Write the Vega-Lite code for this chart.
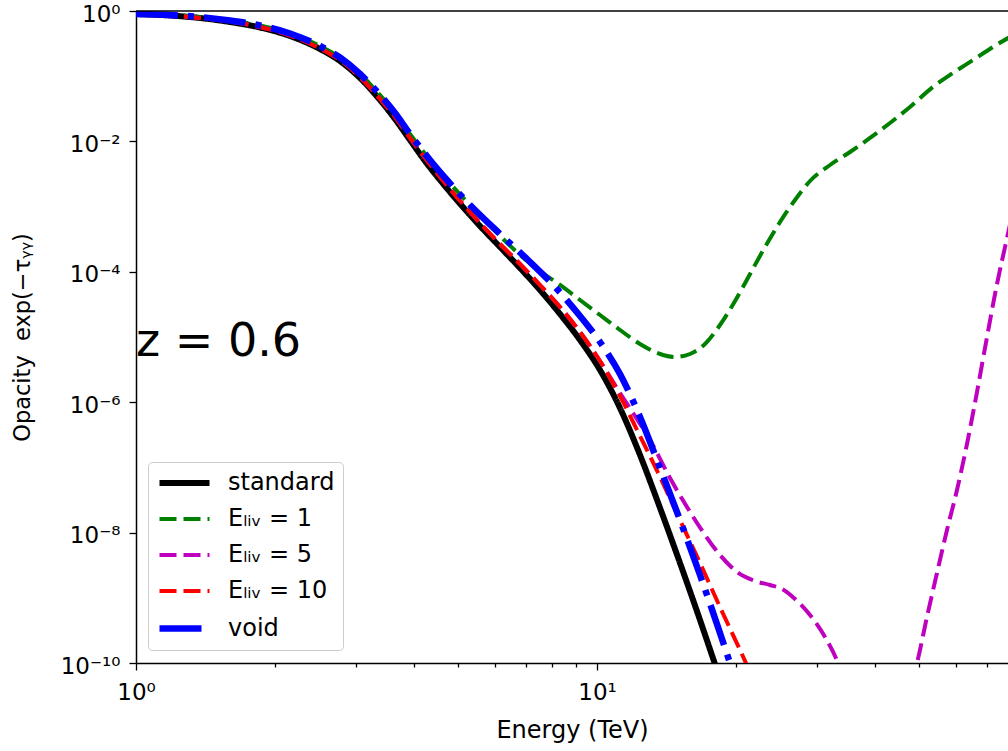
{
  "$schema": "https://vega.github.io/schema/vega-lite/v6.json",
  "width": 872,
  "height": 652,
  "autosize": {"type": "none"},
  "padding": {"left": 136, "top": 11, "right": 0, "bottom": 88},
  "background": "white",
  "config": {"font": "DejaVu Sans", "view": {"stroke": null}},
  "datasets": {
    "curves": [
      {"series": "standard", "E": 1.000, "O": 0.8995},
      {"series": "standard", "E": 1.1851, "O": 0.8532},
      {"series": "standard", "E": 1.3766, "O": 0.7810},
      {"series": "standard", "E": 1.5995, "O": 0.6781},
      {"series": "standard", "E": 1.8580, "O": 0.5585},
      {"series": "standard", "E": 2.1584, "O": 0.4136},
      {"series": "standard", "E": 2.5068, "O": 0.2613},
      {"series": "standard", "E": 2.7704, "O": 0.1710},
      {"series": "standard", "E": 3.0617, "O": 0.09384},
      {"series": "standard", "E": 3.3834, "O": 0.04315},
      {"series": "standard", "E": 3.6464, "O": 0.02206},
      {"series": "standard", "E": 3.9293, "O": 0.01051},
      {"series": "standard", "E": 4.2353, "O": 0.005005},
      {"series": "standard", "E": 4.6799, "O": 0.00207},
      {"series": "standard", "E": 5.0950, "O": 0.001021},
      {"series": "standard", "E": 5.5748, "O": 5.04e-4},
      {"series": "standard", "E": 6.1614, "O": 2.401e-4},
      {"series": "standard", "E": 6.8072, "O": 1.144e-4},
      {"series": "standard", "E": 7.5214, "O": 5.258e-5},
      {"series": "standard", "E": 8.3131, "O": 2.253e-5},
      {"series": "standard", "E": 9.1861, "O": 8.995e-6},
      {"series": "standard", "E": 10.151, "O": 3.117e-6},
      {"series": "standard", "E": 11.217, "O": 8.148e-7},
      {"series": "standard", "E": 12.396, "O": 1.55e-7},
      {"series": "standard", "E": 13.701, "O": 2.385e-8},
      {"series": "standard", "E": 15.137, "O": 3.418e-9},
      {"series": "standard", "E": 16.728, "O": 4.565e-10},
      {"series": "standard", "E": 18.117, "O": 8.684e-11},
      {"series": "standard", "E": 19.432, "O": 2.04e-11},

      {"series": "E_LIV = 1", "E": 1.000, "O": 0.8995},
      {"series": "E_LIV = 1", "E": 1.1851, "O": 0.8683},
      {"series": "E_LIV = 1", "E": 1.3766, "O": 0.8091},
      {"series": "E_LIV = 1", "E": 1.5995, "O": 0.7150},
      {"series": "E_LIV = 1", "E": 1.8580, "O": 0.5992},
      {"series": "E_LIV = 1", "E": 2.1584, "O": 0.4518},
      {"series": "E_LIV = 1", "E": 2.5068, "O": 0.2904},
      {"series": "E_LIV = 1", "E": 2.7704, "O": 0.1935},
      {"series": "E_LIV = 1", "E": 3.0617, "O": 0.1081},
      {"series": "E_LIV = 1", "E": 3.3834, "O": 0.05147},
      {"series": "E_LIV = 1", "E": 3.6464, "O": 0.02726},
      {"series": "E_LIV = 1", "E": 3.9293, "O": 0.01299},
      {"series": "E_LIV = 1", "E": 4.3422, "O": 0.005185},
      {"series": "E_LIV = 1", "E": 4.7269, "O": 0.002559},
      {"series": "E_LIV = 1", "E": 5.3030, "O": 0.001058},
      {"series": "E_LIV = 1", "E": 6.1614, "O": 3.54e-4},
      {"series": "E_LIV = 1", "E": 6.8072, "O": 1.81e-4},
      {"series": "E_LIV = 1", "E": 7.5214, "O": 1.029e-4},
      {"series": "E_LIV = 1", "E": 8.3131, "O": 6.275e-5},
      {"series": "E_LIV = 1", "E": 9.1861, "O": 3.694e-5},
      {"series": "E_LIV = 1", "E": 10.151, "O": 2.175e-5},
      {"series": "E_LIV = 1", "E": 11.217, "O": 1.2805e-5},
      {"series": "E_LIV = 1", "E": 12.396, "O": 7.809e-6},
      {"series": "E_LIV = 1", "E": 13.701, "O": 5.486e-6},
      {"series": "E_LIV = 1", "E": 14.764, "O": 4.934e-6},
      {"series": "E_LIV = 1", "E": 15.912, "O": 5.486e-6},
      {"series": "E_LIV = 1", "E": 17.151, "O": 7.809e-6},
      {"series": "E_LIV = 1", "E": 18.483, "O": 1.528e-5},
      {"series": "E_LIV = 1", "E": 19.928, "O": 3.566e-5},
      {"series": "E_LIV = 1", "E": 21.478, "O": 9.252e-5},
      {"series": "E_LIV = 1", "E": 23.145, "O": 2.401e-4},
      {"series": "E_LIV = 1", "E": 24.947, "O": 5.805e-4},
      {"series": "E_LIV = 1", "E": 26.886, "O": 0.0012625},
      {"series": "E_LIV = 1", "E": 28.978, "O": 0.0024702},
      {"series": "E_LIV = 1", "E": 32.020, "O": 0.0043454},
      {"series": "E_LIV = 1", "E": 35.386, "O": 0.0068783},
      {"series": "E_LIV = 1", "E": 39.102, "O": 0.011276},
      {"series": "E_LIV = 1", "E": 43.205, "O": 0.01915},
      {"series": "E_LIV = 1", "E": 47.741, "O": 0.033696},
      {"series": "E_LIV = 1", "E": 53.552, "O": 0.0683},
      {"series": "E_LIV = 1", "E": 59.183, "O": 0.11197},
      {"series": "E_LIV = 1", "E": 65.403, "O": 0.1772},
      {"series": "E_LIV = 1", "E": 72.278, "O": 0.2805},
      {"series": "E_LIV = 1", "E": 78.692, "O": 0.3993},

      {"series": "E_LIV = 5", "E": 1.000, "O": 0.8995},
      {"series": "E_LIV = 5", "E": 1.1851, "O": 0.8532},
      {"series": "E_LIV = 5", "E": 1.3766, "O": 0.7810},
      {"series": "E_LIV = 5", "E": 1.5995, "O": 0.6901},
      {"series": "E_LIV = 5", "E": 1.8580, "O": 0.5683},
      {"series": "E_LIV = 5", "E": 2.1584, "O": 0.4210},
      {"series": "E_LIV = 5", "E": 2.5068, "O": 0.2660},
      {"series": "E_LIV = 5", "E": 2.7704, "O": 0.1772},
      {"series": "E_LIV = 5", "E": 3.0617, "O": 0.09721},
      {"series": "E_LIV = 5", "E": 3.3834, "O": 0.0447},
      {"series": "E_LIV = 5", "E": 3.6464, "O": 0.02367},
      {"series": "E_LIV = 5", "E": 3.9293, "O": 0.011276},
      {"series": "E_LIV = 5", "E": 4.2353, "O": 0.005565},
      {"series": "E_LIV = 5", "E": 4.6799, "O": 0.002301},
      {"series": "E_LIV = 5", "E": 5.0950, "O": 0.0011356},
      {"series": "E_LIV = 5", "E": 5.5748, "O": 5.604e-4},
      {"series": "E_LIV = 5", "E": 6.1614, "O": 2.669e-4},
      {"series": "E_LIV = 5", "E": 6.8072, "O": 1.317e-4},
      {"series": "E_LIV = 5", "E": 7.5214, "O": 6.275e-5},
      {"series": "E_LIV = 5", "E": 8.3131, "O": 2.885e-5},
      {"series": "E_LIV = 5", "E": 9.1861, "O": 1.193e-5},
      {"series": "E_LIV = 5", "E": 10.151, "O": 4.282e-6},
      {"series": "E_LIV = 5", "E": 11.217, "O": 1.384e-6},
      {"series": "E_LIV = 5", "E": 12.090, "O": 6.144e-7},
      {"series": "E_LIV = 5", "E": 13.030, "O": 2.632e-7},
      {"series": "E_LIV = 5", "E": 14.401, "O": 6.878e-8},
      {"series": "E_LIV = 5", "E": 15.675, "O": 2.47e-8},
      {"series": "E_LIV = 5", "E": 16.980, "O": 1.021e-8},
      {"series": "E_LIV = 5", "E": 18.483, "O": 4.533e-9},
      {"series": "E_LIV = 5", "E": 20.127, "O": 2.488e-9},
      {"series": "E_LIV = 5", "E": 22.018, "O": 1.81e-9},
      {"series": "E_LIV = 5", "E": 23.730, "O": 1.572e-9},
      {"series": "E_LIV = 5", "E": 25.197, "O": 1.364e-9},
      {"series": "E_LIV = 5", "E": 26.886, "O": 9.585e-10},
      {"series": "E_LIV = 5", "E": 28.978, "O": 5.448e-10},
      {"series": "E_LIV = 5", "E": 31.231, "O": 2.505e-10},
      {"series": "E_LIV = 5", "E": 33.326, "O": 1.0e-10},
      {"series": "E_LIV = 5", "E": 35.386, "O": 2.707e-11},
      {"series": "E_LIV = 5", "E": 40.697, "O": 7.92e-13},
      {"series": "E_LIV = 5", "E": 46.563, "O": 2.707e-11},
      {"series": "E_LIV = 5", "E": 49.437, "O": 1.0e-10},
      {"series": "E_LIV = 5", "E": 51.971, "O": 5.076e-10},
      {"series": "E_LIV = 5", "E": 54.634, "O": 2.401e-9},
      {"series": "E_LIV = 5", "E": 57.436, "O": 1.096e-8},
      {"series": "E_LIV = 5", "E": 60.378, "O": 4.501e-8},
      {"series": "E_LIV = 5", "E": 63.473, "O": 2.286e-7},
      {"series": "E_LIV = 5", "E": 66.724, "O": 1.434e-6},
      {"series": "E_LIV = 5", "E": 70.145, "O": 1.0e-5},
      {"series": "E_LIV = 5", "E": 73.738, "O": 6.5e-5},
      {"series": "E_LIV = 5", "E": 77.520, "O": 3.3e-4},
      {"series": "E_LIV = 5", "E": 80.677, "O": 0.0012},

      {"series": "E_LIV = 10", "E": 1.000, "O": 0.8995},
      {"series": "E_LIV = 10", "E": 1.1851, "O": 0.8532},
      {"series": "E_LIV = 10", "E": 1.3766, "O": 0.7810},
      {"series": "E_LIV = 10", "E": 1.5995, "O": 0.6901},
      {"series": "E_LIV = 10", "E": 1.8580, "O": 0.5683},
      {"series": "E_LIV = 10", "E": 2.1584, "O": 0.4210},
      {"series": "E_LIV = 10", "E": 2.5068, "O": 0.2660},
      {"series": "E_LIV = 10", "E": 2.7704, "O": 0.1772},
      {"series": "E_LIV = 10", "E": 3.0617, "O": 0.09721},
      {"series": "E_LIV = 10", "E": 3.3834, "O": 0.0447},
      {"series": "E_LIV = 10", "E": 3.6464, "O": 0.02367},
      {"series": "E_LIV = 10", "E": 3.9293, "O": 0.011276},
      {"series": "E_LIV = 10", "E": 4.2353, "O": 0.005565},
      {"series": "E_LIV = 10", "E": 4.6799, "O": 0.002301},
      {"series": "E_LIV = 10", "E": 5.0950, "O": 0.0011356},
      {"series": "E_LIV = 10", "E": 5.5748, "O": 5.604e-4},
      {"series": "E_LIV = 10", "E": 6.1614, "O": 2.669e-4},
      {"series": "E_LIV = 10", "E": 6.8072, "O": 1.317e-4},
      {"series": "E_LIV = 10", "E": 7.5214, "O": 6.275e-5},
      {"series": "E_LIV = 10", "E": 8.3131, "O": 2.885e-5},
      {"series": "E_LIV = 10", "E": 9.1861, "O": 1.193e-5},
      {"series": "E_LIV = 10", "E": 10.151, "O": 4.282e-6},
      {"series": "E_LIV = 10", "E": 11.217, "O": 1.245e-6},
      {"series": "E_LIV = 10", "E": 12.396, "O": 3.031e-7},
      {"series": "E_LIV = 10", "E": 13.701, "O": 7.125e-8},
      {"series": "E_LIV = 10", "E": 15.137, "O": 1.561e-8},
      {"series": "E_LIV = 10", "E": 16.728, "O": 3.418e-9},
      {"series": "E_LIV = 10", "E": 18.483, "O": 7.224e-10},
      {"series": "E_LIV = 10", "E": 20.427, "O": 1.583e-10},
      {"series": "E_LIV = 10", "E": 22.575, "O": 3.347e-11},

      {"series": "void", "E": 1.000, "O": 0.8995},
      {"series": "void", "E": 1.1851, "O": 0.8683},
      {"series": "void", "E": 1.3766, "O": 0.8091},
      {"series": "void", "E": 1.5995, "O": 0.7150},
      {"series": "void", "E": 1.8580, "O": 0.5992},
      {"series": "void", "E": 2.1584, "O": 0.4518},
      {"series": "void", "E": 2.5068, "O": 0.2904},
      {"series": "void", "E": 2.7704, "O": 0.1935},
      {"series": "void", "E": 3.0617, "O": 0.1081},
      {"series": "void", "E": 3.3834, "O": 0.05147},
      {"series": "void", "E": 3.6464, "O": 0.02726},
      {"series": "void", "E": 3.9293, "O": 0.01299},
      {"series": "void", "E": 4.3422, "O": 0.005185},
      {"series": "void", "E": 4.7269, "O": 0.002559},
      {"series": "void", "E": 5.3030, "O": 0.001058},
      {"series": "void", "E": 6.1614, "O": 3.8e-4},
      {"series": "void", "E": 7.0494, "O": 1.572e-4},
      {"series": "void", "E": 8.1894, "O": 5.448e-5},
      {"series": "void", "E": 9.1861, "O": 2.099e-5},
      {"series": "void", "E": 10.151, "O": 8.382e-6},
      {"series": "void", "E": 11.217, "O": 2.707e-6},
      {"series": "void", "E": 12.396, "O": 5.931e-7},
      {"series": "void", "E": 13.701, "O": 9.79e-8},
      {"series": "void", "E": 15.137, "O": 1.561e-8},
      {"series": "void", "E": 16.728, "O": 2.237e-9},
      {"series": "void", "E": 18.483, "O": 2.885e-10},
      {"series": "void", "E": 19.432, "O": 1.0e-10},
      {"series": "void", "E": 20.427, "O": 3.467e-11}
    ]
  },
  "layer": [
    {
      "data": {"name": "curves"},
      "mark": {"type": "line", "clip": true, "interpolate": "monotone"},
      "encoding": {
        "x": {
          "field": "E", "type": "quantitative",
          "scale": {"type": "log", "domain": [1, 77.9], "nice": false},
          "axis": {
            "title": "Energy (TeV)",
            "values": [1, 2, 3, 4, 5, 6, 7, 8, 9, 10, 20, 30, 40, 50, 60, 70],
            "labelExpr": "datum.value == 1 ? '10⁰' : (datum.value == 10 ? '10¹' : '')",
            "tickSize": {"condition": {"test": "datum.value == 1 || datum.value == 10", "value": 7}, "value": 4},
            "labelFontSize": 23, "titleFontSize": 24, "titleFontWeight": "normal",
            "labelColor": "black", "titleColor": "black",
            "domainColor": "black", "domainWidth": 1.5,
            "tickColor": "black", "tickWidth": 1.3,
            "grid": false, "labelOverlap": false, "labelFlush": false,
            "labelPadding": 11, "titlePadding": 14
          }
        },
        "y": {
          "field": "O", "type": "quantitative",
          "scale": {"type": "log", "domain": [1e-10, 1], "nice": false},
          "axis": {
            "title": "Opacity\u00a0 exp(−τᵧᵧ)",
            "values": [1, 0.01, 0.0001, 1e-6, 1e-8, 1e-10],
            "labelExpr": "'10' + (datum.value < 0.5 ? '⁻' : '') + ['⁰','¹','²','³','⁴','⁵','⁶','⁷','⁸','⁹','¹⁰'][round(abs(log(datum.value)/LN10))]",
            "tickSize": 7,
            "labelFontSize": 23, "titleFontSize": 22.5, "titleFontWeight": "normal",
            "labelColor": "black", "titleColor": "black",
            "domainColor": "black", "domainWidth": 1.5,
            "tickColor": "black", "tickWidth": 1.3,
            "grid": false, "labelOverlap": false, "labelFlush": false,
            "labelPadding": 9, "labelOffset": 3, "titlePadding": 26
          }
        },
        "color": {
          "field": "series", "type": "nominal",
          "scale": {"domain": ["standard", "E_LIV = 1", "E_LIV = 5", "E_LIV = 10", "void"],
                    "range": ["#000000", "#008000", "#bf00bf", "#ff0000", "#0000ff"]},
          "legend": {
            "orient": "none", "legendX": 12, "legendY": 451, "title": null,
            "symbolType": "M-1,0H4", "symbolSize": 400, "labelFontSize": 24, "labelColor": "black",
            "labelOffset": 45, "rowPadding": 12, "padding": 8,
            "fillColor": "white", "strokeColor": "#cccccc", "cornerRadius": 4,
            "labelExpr": "datum.label == 'E_LIV = 1' ? '\u00a0Eₗᵢᵥ = 1' : (datum.label == 'E_LIV = 5' ? '\u00a0Eₗᵢᵥ = 5' : (datum.label == 'E_LIV = 10' ? 'Eₗᵢᵥ = 10\u00a0\u00a0' : datum.label))"
          }
        },
        "strokeDash": {
          "field": "series", "type": "nominal",
          "scale": {"domain": ["standard", "E_LIV = 1", "E_LIV = 5", "E_LIV = 10", "void"],
                    "range": [[1, 0], [17, 7], [17, 7], [17, 7], [42, 10, 6, 10]]},
          "legend": null
        },
        "strokeWidth": {
          "field": "series", "type": "nominal",
          "scale": {"type": "ordinal", "domain": ["standard", "E_LIV = 1", "E_LIV = 5", "E_LIV = 10", "void"],
                    "range": [6, 4, 4, 4, 6.5]},
          "legend": null
        }
      }
    },
    {
      "data": {"values": [{}]},
      "mark": {"type": "rule", "color": "black", "strokeWidth": 1.5},
      "encoding": {"y": {"datum": 1}}
    },
    {
      "data": {"values": [{}]},
      "mark": {"type": "text", "fontSize": 46, "align": "left", "baseline": "middle", "color": "black"},
      "encoding": {"x": {"datum": 1}, "y": {"datum": 8.38e-6}, "text": {"value": "z = 0.6"}}
    }
  ]
}
